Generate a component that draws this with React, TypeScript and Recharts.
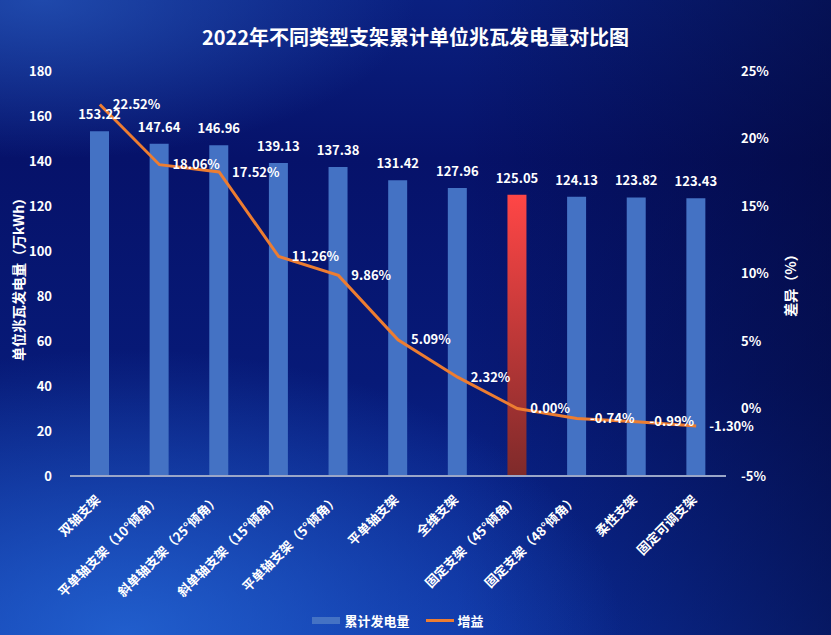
import React from 'react';
import { ComposedChart, Bar, Line, XAxis, YAxis, Cell, LabelList, Legend, Label } from 'recharts';

const categories = ['双轴支架', '平单轴支架（10°倾角）', '斜单轴支架（25°倾角）', '斜单轴支架（15°倾角）', '平单轴支架（5°倾角）', '平单轴支架', '全维支架', '固定支架（45°倾角）', '固定支架（48°倾角）', '柔性支架', '固定可调支架'];
const generation = [153.22, 147.64, 146.96, 139.13, 137.38, 131.42, 127.96, 125.05, 124.13, 123.82, 123.43];
const gain = [22.52, 18.06, 17.52, 11.26, 9.86, 5.09, 2.32, 0.0, -0.74, -0.99, -1.3];
const leftTicks = [0, 20, 40, 60, 80, 100, 120, 140, 160, 180];
const rightTicks = [-5, 0, 5, 10, 15, 20, 25];
const highlightCategory = '固定支架（45°倾角）';

const data = categories.map((name, i) => ({ name, generation: generation[i], gain: gain[i] }));

const FONT = '"Noto Sans CJK SC", "Noto Sans", sans-serif';

const XTick = (props: any) => {
  const { x, y, payload } = props;
  const ax = x - 1;
  const ay = y + 14;
  return (
    <text
      x={ax}
      y={ay}
      transform={`rotate(-45, ${ax}, ${ay})`}
      textAnchor="end"
      dominantBaseline="middle"
      fill="#ffffff"
      fontSize={13}
      fontWeight={700}
      fontFamily={FONT}
    >
      {payload.value}
    </text>
  );
};

const GainLabel = (props: any) => {
  const { x, y, value } = props;
  return (
    <text x={x + 13} y={y + 1} dominantBaseline="middle" textAnchor="start" fill="#ffffff" fontSize={13} fontWeight={700} fontFamily={FONT}>
      {`${Number(value).toFixed(2)}%`}
    </text>
  );
};

const LegendContent = () => (
  <div style={{ height: 26, display: 'flex', justifyContent: 'center', alignItems: 'center', fontFamily: FONT, fontWeight: 700, fontSize: 13, color: '#ffffff' }}>
    <span style={{ display: 'inline-block', width: 28, height: 7, background: '#4472c4', marginRight: 4 }} />
    <span style={{ marginRight: 16 }}>累计发电量</span>
    <span style={{ display: 'inline-block', width: 28, height: 3, background: '#ed7d31', marginRight: 4 }} />
    <span>增益</span>
  </div>
);

export default function App() {
  return (
    <div
      style={{
        position: 'absolute',
        left: 0,
        top: 0,
        width: 831,
        height: 635,
        overflow: 'hidden',
        background:
          'radial-gradient(ellipse 60% 45% at 15% 100%, rgba(40,110,220,0.75), rgba(40,110,220,0) 100%), radial-gradient(ellipse 45% 25% at 5% 0%, rgba(40,90,190,0.7), rgba(40,90,190,0) 100%), linear-gradient(to right, rgba(0,0,0,0) 55%, rgba(2,6,50,0.55) 100%), linear-gradient(to bottom, #0a2080 0%, #06126a 25%, #071a78 60%, #0c2fa0 100%)',
      }}
    >
      <div style={{ position: 'absolute', left: 0, top: 22, width: 831, textAlign: 'center', color: '#ffffff', fontFamily: FONT, fontWeight: 700, fontSize: 20 }}>
        2022年不同类型支架累计单位兆瓦发电量对比图
      </div>
      <ComposedChart width={831} height={635} data={data} margin={{ top: 71, right: 45, bottom: 2, left: 10 }}>
        <defs>
          <linearGradient id="redGrad" x1="0" y1="0" x2="0" y2="1">
            <stop offset="0%" stopColor="#ff4646" />
            <stop offset="100%" stopColor="#7e2a2a" />
          </linearGradient>
        </defs>
        <XAxis
          dataKey="name"
          interval={0}
          height={131}
          tickLine={false}
          axisLine={{ stroke: '#9aa6c8', strokeWidth: 2 }}
          tick={<XTick />}
        />
        <YAxis
          yAxisId="left"
          width={60}
          domain={[0, 180]}
          ticks={leftTicks}
          axisLine={false}
          tickLine={false}
          tickSize={6}
          tickMargin={12}
          tick={{ fill: '#ffffff', fontSize: 13, fontWeight: 700, fontFamily: FONT }}
        >
          <Label
            content={() => (
              <text x={20} y={276} transform="rotate(-90, 20, 276)" textAnchor="middle" dominantBaseline="middle" fill="#ffffff" fontSize={14} fontWeight={700} fontFamily={FONT}>
                单位兆瓦发电量（万kWh）
              </text>
            )}
          />
        </YAxis>
        <YAxis
          yAxisId="right"
          orientation="right"
          width={60}
          domain={[-5, 25]}
          ticks={rightTicks}
          axisLine={false}
          tickLine={false}
          tickSize={6}
          tickMargin={9}
          tickFormatter={(v: number) => `${v}%`}
          tick={{ fill: '#ffffff', fontSize: 13, fontWeight: 700, fontFamily: FONT }}
        >
          <Label
            content={() => (
              <text x={792} y={282} transform="rotate(-90, 792, 282)" textAnchor="middle" dominantBaseline="middle" fill="#ffffff" fontSize={14} fontWeight={700} fontFamily={FONT}>
                差异（%）
              </text>
            )}
          />
        </YAxis>
        <Legend verticalAlign="bottom" content={<LegendContent />} />
        <Bar yAxisId="left" dataKey="generation" name="累计发电量" fill="#4472c4" barSize={19} isAnimationActive={false}>
          {data.map((d) => (
            <Cell key={d.name} fill={d.name === highlightCategory ? 'url(#redGrad)' : '#4472c4'} />
          ))}
          <LabelList dataKey="generation" position="top" offset={12} fill="#ffffff" fontSize={13} fontWeight={700} fontFamily={FONT} formatter={(v: any) => Number(v).toFixed(2)} />
        </Bar>
        <Line yAxisId="right" type="linear" dataKey="gain" name="增益" stroke="#ed7d31" strokeWidth={3} dot={false} activeDot={false} isAnimationActive={false}>
          <LabelList dataKey="gain" content={<GainLabel />} />
        </Line>
      </ComposedChart>
    </div>
  );
}
